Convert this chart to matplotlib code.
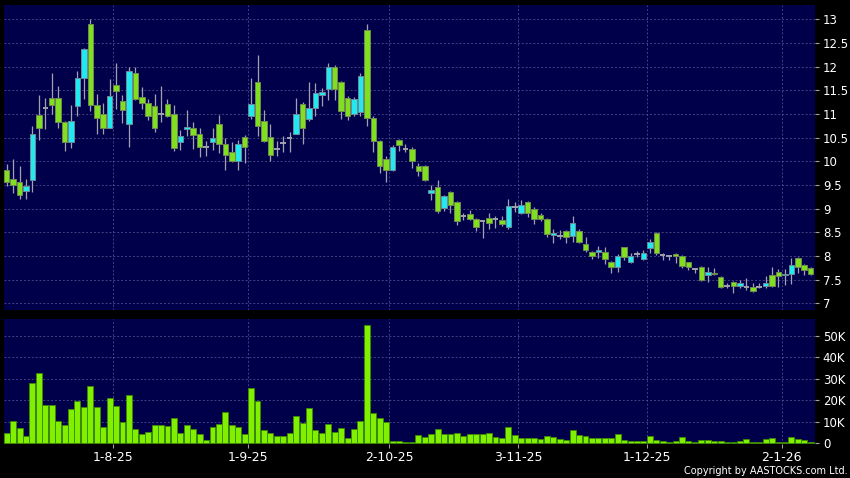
import matplotlib
matplotlib.use("Agg")
import matplotlib.pyplot as plt
import numpy as np
import pandas as pd

# ---- data ----
start_date = "2025-07-10"
end_date = "2026-01-09"
holidays = ["2025-10-01", "2025-10-07", "2025-10-29", "2025-12-25", "2025-12-26", "2026-01-01"]

opens = [9.81, 9.62, 9.57, 9.38, 9.60, 10.97, 11.13, 11.33, 11.34, 10.82,
         10.40, 11.16, 11.76, 12.89, 11.19, 11.00, 10.70, 11.62, 11.28, 10.78,
         11.87, 11.36, 11.23, 11.16, 11.00, 11.21, 11.00, 10.41, 10.68, 10.70,
         10.58, 10.30, 10.41, 10.79, 10.37, 10.20, 10.00, 10.52, 10.95, 11.67,
         10.85, 10.52, 10.25, 10.39, 10.49, 10.58, 11.21, 10.90, 11.12, 11.40,
         11.52, 12.00, 11.67, 11.33, 11.00, 11.04, 12.77, 10.92, 10.42, 10.05,
         9.81, 10.46, 10.26, 10.26, 9.91, 9.91, 9.33, 9.45, 9.01, 9.36,
         9.14, 8.85, 8.88, 8.79, 8.73, 8.80, 8.78, 8.75, 8.61, 9.03,
         8.90, 9.15, 9.00, 8.86, 8.78, 8.44, 8.43, 8.52, 8.42, 8.53,
         8.25, 8.08, 8.08, 8.08, 7.87, 7.77, 8.18, 7.87, 8.04, 7.94,
         8.16, 8.48, 8.02, 8.00, 8.04, 8.00, 7.87, 7.72, 7.77, 7.60,
         7.65, 7.55, 7.37, 7.46, 7.37, 7.34, 7.34, 7.34, 7.37, 7.60,
         7.66, 7.60, 7.63, 7.96, 7.80, 7.75]
highs = [9.95, 10.05, 9.90, 9.62, 10.75, 11.39, 11.33, 11.87, 11.60, 10.85,
         11.18, 11.90, 12.40, 13.01, 11.43, 11.23, 11.73, 12.07, 11.40, 12.00,
         12.00, 11.57, 11.31, 11.43, 11.60, 11.32, 11.18, 10.67, 11.08, 10.82,
         10.70, 10.42, 10.70, 10.97, 10.50, 10.40, 10.45, 10.55, 11.76, 12.24,
         11.08, 10.78, 10.42, 10.54, 10.62, 11.33, 11.25, 11.67, 11.66, 11.55,
         12.07, 12.03, 11.70, 11.38, 11.35, 11.86, 12.89, 10.95, 10.45, 10.12,
         10.35, 10.48, 10.37, 10.30, 9.97, 9.93, 9.50, 9.61, 9.28, 9.38,
         9.17, 8.91, 8.98, 8.81, 8.74, 8.90, 8.84, 8.85, 9.21, 9.15,
         9.19, 9.17, 9.03, 8.90, 8.80, 8.56, 8.55, 8.55, 8.85, 8.56,
         8.40, 8.10, 8.22, 8.18, 7.90, 8.05, 8.20, 8.06, 8.11, 8.13,
         8.36, 8.50, 8.06, 8.02, 8.06, 8.02, 7.88, 7.73, 7.79, 7.77,
         7.74, 7.57, 7.42, 7.48, 7.50, 7.53, 7.42, 7.44, 7.58, 7.77,
         7.72, 7.72, 7.95, 7.98, 7.84, 7.77]
lows = [9.47, 9.34, 9.20, 9.20, 9.35, 10.44, 10.68, 11.00, 10.71, 10.21,
        10.28, 10.95, 11.31, 11.06, 10.57, 10.57, 10.70, 11.10, 10.81, 10.30,
        11.30, 11.10, 10.88, 10.61, 10.82, 10.93, 10.21, 10.23, 10.53, 10.26,
        10.10, 10.12, 10.23, 10.17, 9.81, 9.98, 9.82, 9.96, 10.90, 10.54,
        10.40, 10.00, 10.12, 10.19, 10.19, 10.58, 10.37, 10.85, 10.95, 11.16,
        11.30, 11.30, 10.90, 10.88, 10.95, 10.95, 10.74, 10.19, 9.75, 9.57,
        9.80, 10.21, 10.19, 9.86, 9.69, 9.58, 9.19, 8.90, 8.94, 8.90,
        8.66, 8.76, 8.76, 8.52, 8.37, 8.56, 8.60, 8.63, 8.58, 8.93,
        8.88, 8.83, 8.68, 8.73, 8.41, 8.27, 8.35, 8.27, 8.30, 8.27,
        8.08, 7.94, 7.95, 7.84, 7.65, 7.67, 7.92, 7.85, 7.97, 7.92,
        8.06, 8.03, 7.92, 7.92, 7.86, 7.75, 7.70, 7.65, 7.47, 7.46,
        7.60, 7.32, 7.33, 7.22, 7.32, 7.29, 7.25, 7.32, 7.33, 7.35,
        7.35, 7.38, 7.40, 7.64, 7.60, 7.60]
closes = [9.57, 9.50, 9.28, 9.48, 10.58, 10.70, 11.13, 11.18, 10.83, 10.40,
          10.85, 11.76, 12.38, 11.19, 10.91, 10.70, 11.38, 11.49, 11.08, 11.91,
          11.32, 11.23, 10.95, 10.70, 11.00, 10.95, 10.28, 10.54, 10.73, 10.56,
          10.30, 10.30, 10.49, 10.37, 10.13, 10.00, 10.37, 10.30, 11.21, 10.74,
          10.42, 10.14, 10.25, 10.39, 10.49, 11.00, 10.70, 11.12, 11.45, 11.47,
          12.00, 11.53, 11.07, 10.95, 11.31, 11.80, 10.92, 10.42, 9.89, 9.81,
          10.30, 10.34, 10.26, 10.00, 9.79, 9.61, 9.40, 8.96, 9.26, 9.08,
          8.73, 8.85, 8.78, 8.62, 8.73, 8.69, 8.78, 8.67, 9.05, 9.03,
          9.07, 8.90, 8.78, 8.79, 8.46, 8.48, 8.43, 8.40, 8.69, 8.30,
          8.13, 7.99, 8.13, 7.93, 7.77, 8.00, 7.97, 8.01, 8.04, 8.06,
          8.29, 8.06, 8.02, 8.00, 8.00, 7.79, 7.77, 7.72, 7.50, 7.67,
          7.62, 7.34, 7.37, 7.37, 7.42, 7.34, 7.27, 7.34, 7.44, 7.37,
          7.58, 7.63, 7.82, 7.77, 7.71, 7.63]
volumes = [4700, 10600, 7000, 3400, 28300, 32900, 17900, 17900, 10400, 8500,
           15800, 19700, 16800, 26900, 16800, 7500, 21000, 17400, 9900, 22700,
           6700, 4300, 5100, 8500, 8500, 8200, 12000, 4700, 8500, 6500,
           4300, 1600, 7800, 9000, 14800, 8500, 7500, 4300, 25900, 19700,
           6200, 4700, 3400, 3400, 4700, 12700, 9300, 16300, 6200, 4700,
           8900, 5300, 7100, 2600, 6700, 10600, 55000, 14000, 12000, 9900,
           1200, 900, 500, 800, 4000, 3100, 4300, 6800, 4300, 4300,
           4700, 3400, 4300, 4300, 4300, 4700, 2800, 2300, 7500, 3700,
           2500, 2500, 2600, 2200, 3400, 3100, 1900, 1400, 6100, 4000,
           3400, 2300, 2300, 2600, 2600, 4200, 1600, 1100, 1100, 900,
           3600, 1600, 1200, 600, 1100, 3100, 1200, 600, 1400, 1600,
           1200, 900, 500, 500, 900, 1900, 500, 600, 1900, 2600,
           600, 700, 2800, 2200, 1600, 500]
label_dates = ["2025-08-01", "2025-09-01", "2025-10-02", "2025-11-03", "2025-12-01", "2026-01-02"]
label_texts = ["1-8-25", "1-9-25", "2-10-25", "3-11-25", "1-12-25", "2-1-26"]
price_ticks = [7, 7.5, 8, 8.5, 9, 9.5, 10, 10.5, 11, 11.5, 12, 12.5, 13]
price_labels = ["7", "7.5", "8", "8.5", "9", "9.5", "10", "10.5", "11", "11.5", "12", "12.5", "13"]
vol_ticks = [0, 10000, 20000, 30000, 40000, 50000]
vol_labels = ["0", "10K", "20K", "30K", "40K", "50K"]

# ---- build ----
dates = pd.bdate_range(start_date, end_date)
dates = dates[~dates.isin(pd.to_datetime(holidays))]
n = len(opens)
idx = np.arange(n)
o = np.array(opens); h = np.array(highs); l = np.array(lows); c = np.array(closes)
v = np.array(volumes)
label_pos = [int(np.where(dates == pd.Timestamp(d))[0][0]) + 0.5 for d in label_dates]

BG = "#000000"
PANEL = "#00004a"
GRID = "#5c5c96"
UP = "#22e8f0"
DOWN = "#80e020"
WICK = "#a0a0ae"
TXT = "#ffffff"
DASH = (0, (2.8, 2.8))

fig = plt.figure(figsize=(8.5, 4.78), dpi=100, facecolor=BG)
ax = fig.add_axes([4/850, 1 - 310/478, 810.5/850, 305/478])
axv = fig.add_axes([4/850, 1 - 444/478, 810.5/850, 125/478])

for a in (ax, axv):
    a.set_facecolor(PANEL)
    for s in a.spines.values():
        s.set_visible(False)
    a.set_xlim(-0.42, 125.6)
    a.yaxis.tick_right()
    a.tick_params(axis="y", colors="#a0a0a0", labelcolor=TXT, length=3, width=0.8,
                  pad=3, labelsize=8.5, direction="out")
    for xp in label_pos:
        a.axvline(xp, color=GRID, lw=0.5, ls=DASH, zorder=0.5)

ax.set_ylim(6.86, 13.30)
ax.set_yticks(price_ticks)
ax.set_yticklabels(price_labels)
for yv in price_ticks:
    ax.axhline(yv, color=GRID, lw=0.5, ls=DASH, zorder=0.5)
ax.set_xticks([])

# wicks
ax.vlines(idx, l, h, color=WICK, lw=0.9, zorder=2)
# bodies
up = c > o
dn = c < o
eq = c == o
bw = 0.86
ax.bar(idx[up], (c - o)[up], bottom=o[up], width=bw, color=UP,
       edgecolor="#6a8a9a", linewidth=0.7, zorder=3)
ax.bar(idx[dn], (o - c)[dn], bottom=c[dn], width=bw, color=DOWN,
       edgecolor="#6f8a50", linewidth=0.7, zorder=3)
ax.hlines(o[eq], idx[eq] - bw / 2, idx[eq] + bw / 2, color=WICK, lw=1.4, zorder=3)

# volume
axv.set_ylim(-300, 57900)
axv.set_yticks(vol_ticks)
axv.set_yticklabels(vol_labels)
for yv in vol_ticks[1:]:
    axv.axhline(yv, color=GRID, lw=0.5, ls=DASH, zorder=0.5)
axv.bar(idx, v, width=0.92, color="#80f000", edgecolor="#3c8a00", linewidth=0.6, zorder=3)
axv.set_xticks(label_pos)
axv.set_xticklabels(label_texts)
axv.tick_params(axis="x", colors="#a0a0a0", labelcolor=TXT, length=3, width=0.8,
                pad=2, labelsize=9)

fig.text(848/850, 1 - 476/478, "Copyright by AASTOCKS.com Ltd.", color=TXT,
         fontsize=7, ha="right", va="bottom")

fig.savefig("out.png", dpi=100, facecolor=BG)
